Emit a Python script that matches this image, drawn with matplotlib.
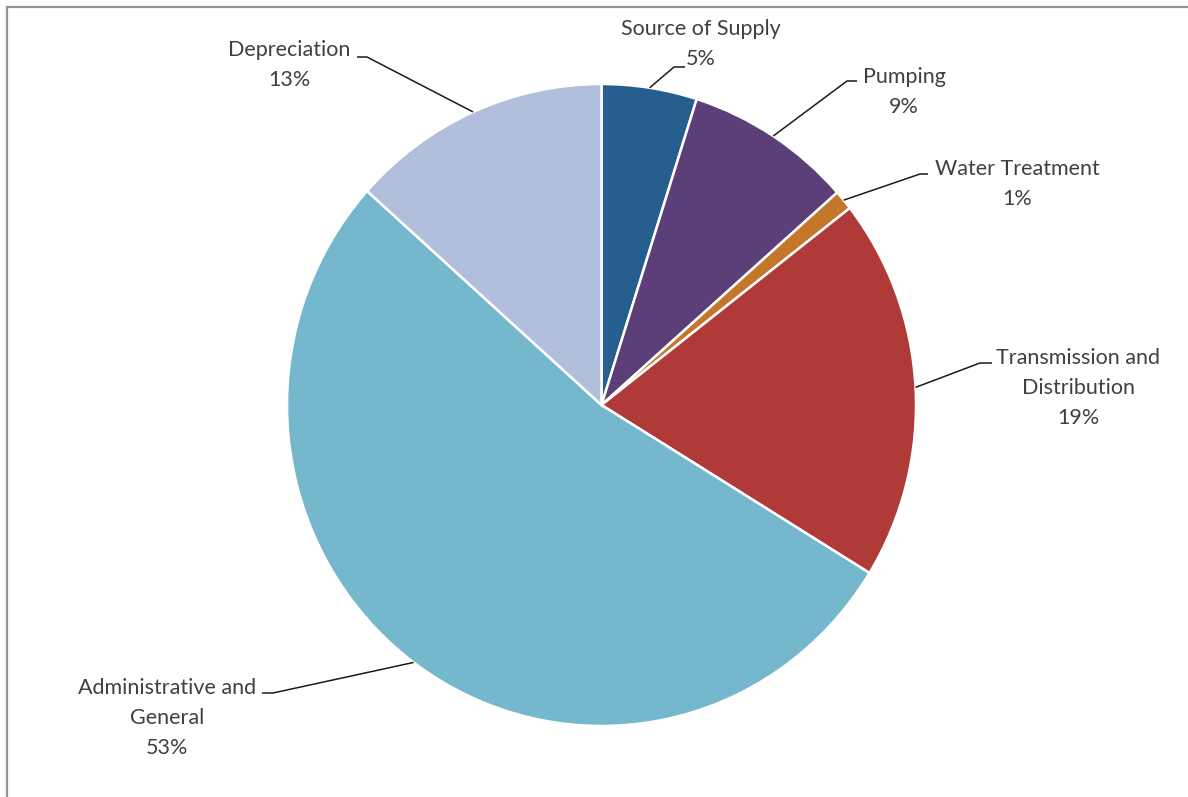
import matplotlib
matplotlib.use("Agg")
import matplotlib.pyplot as plt
import numpy as np

# Expense categories, clockwise from 12 o'clock
categories = ["Source of Supply", "Pumping", "Water Treatment",
              "Transmission and\nDistribution", "Administrative and\nGeneral",
              "Depreciation"]
shares = [4.9, 8.6, 1.0, 19.3, 52.9, 13.4]
colors = ["#265E8E", "#5C3F78", "#C4772B", "#B03A37", "#75B8CE", "#B2BFDC"]

# label block centre and leader elbow/end (pixels, from top-left)
label_pos = [(701, 44), (904, 92), (1017, 184), (1078, 388), (167, 718), (289, 65)]
elbows = [((674, 67), (685, 67)), ((847, 81), (857, 81)), ((920, 174), (928, 174)),
          ((980, 363), (992, 363)), ((273, 693), (262, 693)), ((367, 57), (357, 57))]

W, H = 1188, 797
cx, cy, rx, ry = 601.5, 405, 314.5, 321

fig = plt.figure(figsize=(W / 100, H / 100), dpi=100)
ax = fig.add_axes([0, 0, 1, 1])

def px(p):
    return ((p[0] - cx) / rx, (cy - p[1]) / ry)

wedges, _ = ax.pie(shares, colors=colors, startangle=90, counterclock=False,
                   radius=1, center=(0, 0),
                   wedgeprops=dict(edgecolor="white", linewidth=1.8))
ax.set_aspect("auto")
ax.set_xlim(-cx / rx, (W - cx) / rx)
ax.set_ylim(-(H - cy) / ry, cy / ry)
ax.axis("off")

total = sum(shares)
for w, name, v, lp, (el, end) in zip(wedges, categories, shares, label_pos, elbows):
    mid = np.deg2rad((w.theta1 + w.theta2) / 2)
    start = (np.cos(mid), np.sin(mid))
    e1, e2 = px(el), px(end)
    ax.plot([start[0], e1[0], e2[0]], [start[1], e1[1], e2[1]],
            color="#1a1a1a", lw=1.1, solid_capstyle="butt")
    tx, ty = px(lp)
    ax.text(tx, ty, f"{name}\n{v / total * 100:.0f}%", ha="center", va="center",
            fontsize=15.5, family="Lato", color="#404040", linespacing=1.6)

# frame lines (top and left only visible)
fig.add_artist(plt.Line2D([7 / W, 1], [1 - 7 / H, 1 - 7 / H], color="#949494", lw=1.6,
                          transform=fig.transFigure))
fig.add_artist(plt.Line2D([7 / W, 7 / W], [0, 1 - 7 / H], color="#949494", lw=1.6,
                          transform=fig.transFigure))

fig.savefig("out.png", dpi=100)
